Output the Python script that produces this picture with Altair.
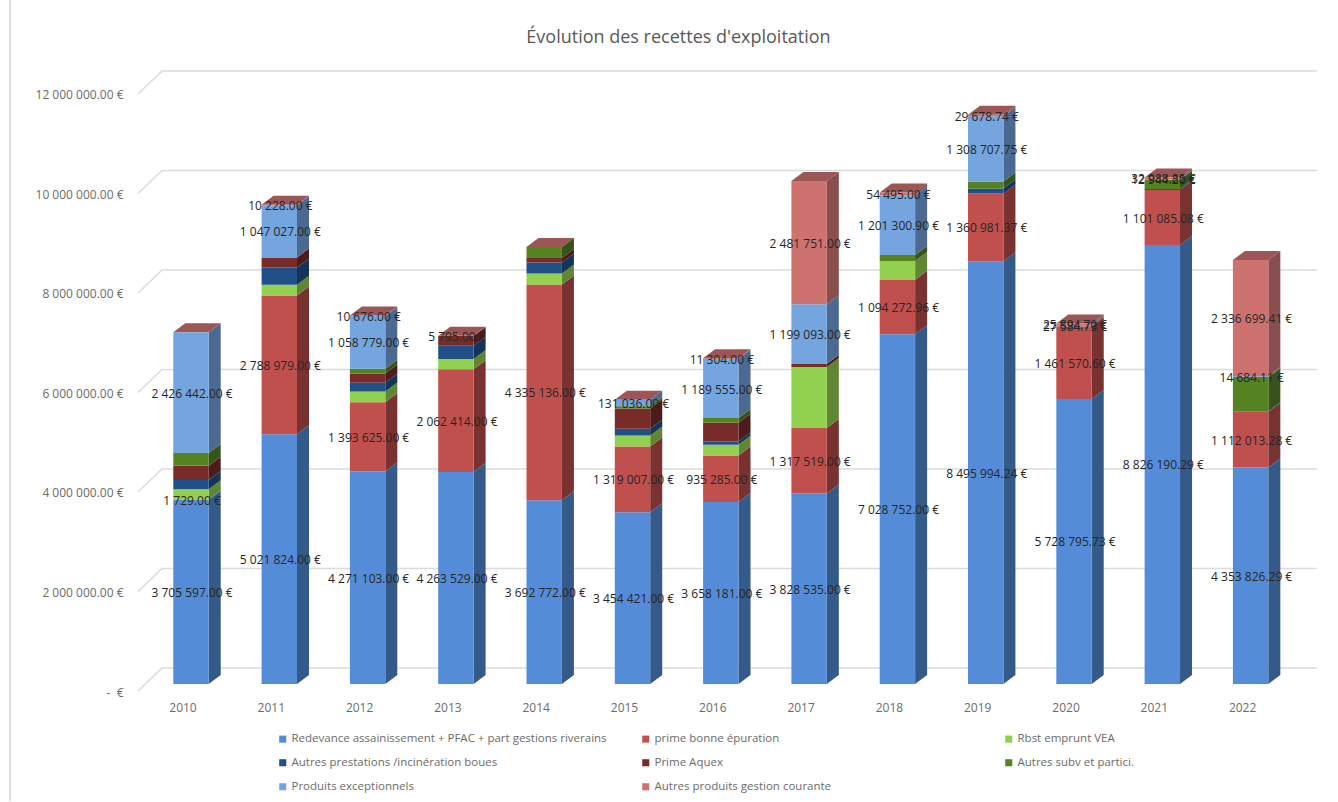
import altair as alt
import pandas as pd

# Recettes d'exploitation par année et par poste (None = poste absent)
YEARS = list(range(2010, 2023))
SERIES = [
    "Redevance assainissement + PFAC + part gestions riverains",
    "prime bonne épuration",
    "Rbst emprunt VEA",
    "Autres prestations /incinération boues",
    "Prime Aquex",
    "Autres subv et partici.",
    "Produits exceptionnels",
    "Autres produits gestion courante",
]
redevance = [3705597.00, 5021824.00, 4271103.00, 4263529.00, 3692772.00, 3454421.00, 3658181.00,
             3828535.00, 7028752.00, 8495994.24, 5728795.73, 8826190.29, 4353826.29]
prime_epuration = [1729.00, 2788979.00, 1393625.00, 2062414.00, 4335136.00, 1319007.00, 935285.00,
                   1317519.00, 1094272.96, 1360981.37, 1461570.60, 1101085.08, 1112013.28]
rbst_vea = [207000, 215000, 215000, 207000, 221000, 221000, 215000, 1226000, 380000, None, None, None, None]
autres_prestations = [187000, 348000, 175000, 267000, 221000, 135000, 66000, None, None, 105000, None, 20000, 10000]
prime_aquex = [288000, 200000, 187000, 195000, 94000, 408000, 376000, 60000, None, None, None, None, None]
autres_subv = [255000, None, 94000, None, 221000, 46000, 94000, None, 120000, 140000, None, 190000, 697000]
produits_except = [2426442.00, 1047027.00, 1058779.00, None, None, 131036.00, 1189555.00,
                   1199093.00, 1201300.90, 1308707.75, 27584.73, 12944.20, 14684.11]
autres_produits = [None, 10228.00, 10676.00, 5795.00, None, None, 11304.00,
                   2481751.00, 54495.00, 29678.74, 25894.70, 32988.85, 2336699.41]
VALUES = [redevance, prime_epuration, rbst_vea, autres_prestations,
          prime_aquex, autres_subv, produits_except, autres_produits]
LABELLED = {SERIES[0], SERIES[1], SERIES[6], SERIES[7]}
Y_TICKS = [0, 2000000, 4000000, 6000000, 8000000, 10000000, 12000000]

FRONT = ["#558CD8", "#C0504D", "#92D050", "#215088", "#772C2A", "#558321", "#74A5DE", "#CE7270"]
SIDE = ["#345A8A", "#7A3230", "#5F8733", "#15345A", "#4B1C1B", "#36541A", "#4C6A91", "#8A4E4C"]
TOP_COLOR = "#9C5656"
GRID = "#DCDCDC"
FONT = "Open Sans"

# Pseudo-3D geometry, expressed in scale units (years and euros)
BAR_W = 0.401
DEPTH_X = 0.136
DEPTH_Y = 181000
FLOOR_DX = 0.6
FLOOR_BACK_DX = 0.272
GRID_FRONT_DROP = 140700
GRID_BACK_RISE = 321600
X_END = 2022.75


def euros(v):
    return f"{v:,.2f}".replace(",", " ") + " €"


front, side, top, grid = [], [], [], []
for i, year in enumerate(YEARS):
    x0, x1 = year - BAR_W / 2, year + BAR_W / 2
    base = 0.0
    for s, vals in zip(SERIES, VALUES):
        v = vals[i]
        if v is None:
            continue
        end = base + v
        front.append(dict(x0=x0, x1=x1, v0=base, v1=end, serie=s, xm=year + 0.012, vm=(base + end) / 2,
                          label=euros(v) if s in LABELLED else None))
        key = f"{year}-{s}"
        side.append(dict(x=x1, v0=base, v1=end, serie=s, key=key))
        side.append(dict(x=x1 + DEPTH_X, v0=base + DEPTH_Y, v1=end + DEPTH_Y, serie=s, key=key))
        base = end
    top += [
        dict(x=x0, v0=base, v1=base, year=year),
        dict(x=x0 + DEPTH_X, v0=base, v1=base + DEPTH_Y, year=year),
        dict(x=x1, v0=base, v1=base + DEPTH_Y, year=year),
        dict(x=x1 + DEPTH_X, v0=base + DEPTH_Y, v1=base + DEPTH_Y, year=year),
    ]

for t in Y_TICKS:
    grid += [
        dict(x=YEARS[0] - FLOOR_DX, v=t - GRID_FRONT_DROP, tick=t),
        dict(x=YEARS[0] - FLOOR_DX + FLOOR_BACK_DX, v=t + GRID_BACK_RISE, tick=t),
        dict(x=X_END, v=t + GRID_BACK_RISE, tick=t),
    ]

front_df = pd.DataFrame(front)
labels_df = front_df[front_df["label"].notna()]

x_scale = alt.Scale(domain=[2009.3205, 2022.899], nice=False, zero=False)
y_scale = alt.Scale(domain=[-140700, 12542700], nice=False, zero=False)

x_axis = alt.Axis(values=YEARS, format="d", title=None, grid=False, domain=False, ticks=False,
                  labelOffset=-8.5, labelPadding=11, labelFont=FONT, labelFontSize=12, labelColor="#6b6b6b",
                  labelFlush=False, labelOverlap=False)
y_axis = alt.Axis(values=Y_TICKS, title=None, grid=False, domain=False, ticks=False,
                  labelOffset=8, labelPadding=8, labelFont=FONT, labelFontSize=12, labelColor="#6b6b6b",
                  labelExpr="datum.value == 0 ? '-\u00a0\u00a0€' : replace(format(datum.value, ',.2f'), /,/g, ' ') + ' €'")

frame = alt.Chart(alt.Data(values=[{}])).mark_rule(color=GRID, strokeWidth=2).encode(
    x=alt.value(-121), y=alt.value(-60), y2=alt.value(742)
)

grid_layer = alt.Chart(pd.DataFrame(grid)).mark_line(color=GRID, strokeWidth=1.6).encode(
    x=alt.X("x:Q", scale=x_scale, axis=x_axis),
    y=alt.Y("v:Q", scale=y_scale, axis=y_axis),
    detail="tick:N",
)

side_layer = alt.Chart(pd.DataFrame(side)).mark_area(opacity=1).encode(
    x=alt.X("x:Q", scale=x_scale),
    y=alt.Y("v0:Q", scale=y_scale, stack=None),
    y2="v1:Q",
    color=alt.Color("serie:N", scale=alt.Scale(domain=SERIES, range=SIDE), legend=None),
    detail="key:N",
)

top_layer = alt.Chart(pd.DataFrame(top)).mark_area(color=TOP_COLOR, opacity=1).encode(
    x=alt.X("x:Q", scale=x_scale),
    y=alt.Y("v0:Q", scale=y_scale, stack=None),
    y2="v1:Q",
    detail="year:N",
)

bars = alt.Chart(front_df).mark_rect().encode(
    x=alt.X("x0:Q", scale=x_scale),
    x2="x1:Q",
    y=alt.Y("v0:Q", scale=y_scale),
    y2="v1:Q",
    color=alt.Color(
        "serie:N",
        scale=alt.Scale(domain=SERIES, range=FRONT),
        sort=SERIES,
        legend=alt.Legend(
            title=None, orient="none", legendX=146, legendY=673, columns=3, direction="horizontal",
            gridAlign="all", columnPadding=33, rowPadding=11, symbolType="square", symbolSize=50,
            symbolStrokeWidth=0, labelFont=FONT, labelFontSize=11.5, labelColor="#6b6b6b",
            labelLimit=400, labelOffset=3,
        ),
    ),
)

text = alt.Chart(labels_df).mark_text(font=FONT, fontSize=12, color="#262626", dy=1).encode(
    x=alt.X("xm:Q", scale=x_scale),
    y=alt.Y("vm:Q", scale=y_scale),
    text="label:N",
)

chart = (
    alt.layer(frame, grid_layer, side_layer, top_layer, bars, text)
    .resolve_scale(color="independent")
    .properties(
        width=1199,
        height=631,
        padding={"left": 131, "top": 60, "right": 8, "bottom": 110},
        autosize=alt.AutoSizeParams(type="none"),
        background="white",
        title=alt.TitleParams(
            "Évolution des recettes d'exploitation",
            font=FONT, fontSize=18, fontWeight="normal", color="#595959",
            anchor="middle", dx=-52, offset=-48,
        ),
    )
    .configure_view(strokeWidth=0)
)

chart.save("out.html", embed_options={"renderer": "svg", "actions": False})
